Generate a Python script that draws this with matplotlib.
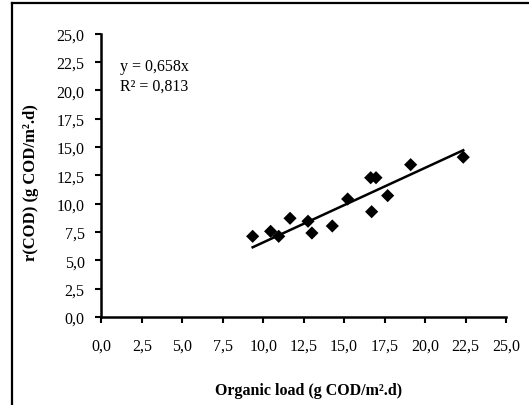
import numpy as np
import matplotlib
matplotlib.use('Agg')
import matplotlib.pyplot as plt
from matplotlib.lines import Line2D

# Organic load en r(COD)
organic_load = [9.35, 10.46, 10.96, 11.66, 12.77, 13.01, 14.27,
                15.22, 16.70, 16.64, 16.97, 17.69, 19.11, 22.36]
r_cod = [7.12, 7.56, 7.12, 8.71, 8.45, 7.41, 8.03,
         10.41, 9.29, 12.29, 12.29, 10.71, 13.44, 14.10]
slope = 0.658
r2_text = "0,813"
ticks = [0, 2.5, 5, 7.5, 10, 12.5, 15, 17.5, 20, 22.5, 25]
tick_labels = [f"{t:.1f}".replace('.', ',') for t in ticks]

plt.rcParams['font.family'] = ['Liberation Serif', 'DejaVu Serif']

fig = plt.figure(figsize=(5.29, 4.06), dpi=100)
ax = fig.add_axes([0.1915, 0.2167, 0.765, 0.698])

ax.scatter(organic_load, r_cod, marker='D', s=45, color='black',
           edgecolors='none', zorder=3)

# Trendlijn door de oorsprong
xfit = np.array([min(organic_load), max(organic_load)])
ax.plot(xfit, slope * xfit, color='black', lw=1.8)

ax.set_xlim(0, 25)
ax.set_ylim(0, 25)
ax.set_xticks(ticks)
ax.set_xticklabels(tick_labels)
ax.set_yticks(ticks)
ax.set_yticklabels(tick_labels)
ax.tick_params(direction='out', length=4, width=1.5, labelsize=11.5)
ax.tick_params(axis='x', pad=10.5)
ax.tick_params(axis='y', pad=8)
for side in ['top', 'right']:
    ax.spines[side].set_visible(False)
for side in ['left', 'bottom']:
    ax.spines[side].set_linewidth(1.8)

ax.set_xlabel('Organic load (g COD/m².d)', fontsize=11.5, fontweight='bold')
ax.set_ylabel('r(COD) (g COD/m².d)', fontsize=12, fontweight='bold')
ax.xaxis.set_label_coords(0.513, -0.229)
ax.yaxis.set_label_coords(-0.154, 0.477)

ax.text(0.045, 0.873, f"y = {slope:.3f}x".replace('.', ','),
        transform=ax.transAxes, fontsize=11.5, va='baseline')
ax.text(0.045, 0.803, f"R² = {r2_text}",
        transform=ax.transAxes, fontsize=11.5, va='baseline')

# Rand links en boven, zoals in het origineel
fig.add_artist(Line2D([0.022, 0.022], [0, 0.99], color='black', lw=1.6,
                      transform=fig.transFigure))
fig.add_artist(Line2D([0.022, 1], [0.99, 0.99], color='black', lw=1.6,
                      transform=fig.transFigure))

plt.savefig('out.png', dpi=100)
